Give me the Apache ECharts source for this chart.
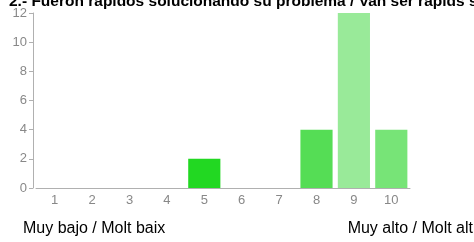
<!DOCTYPE html>
<html>
<head>
<meta charset="utf-8">
<script src="https://cdn.jsdelivr.net/npm/echarts@6/dist/echarts.min.js"></script>
<style>
  html, body { margin: 0; padding: 0; background: #fff; }
  #chart { width: 474px; height: 242px; }
</style>
</head>
<body>
<div id="chart"></div>
<script>
// datos
const categories = ["1", "2", "3", "4", "5", "6", "7", "8", "9", "10"];
const counts = [0, 0, 0, 0, 2, 0, 0, 4, 12, 4];
const barColors = ["#22d822", "#22d822", "#22d822", "#22d822", "#22d822", "#22d822", "#22d822", "#55dd55", "#99ea99", "#77e477"];
const yTicks = [0, 2, 4, 6, 8, 10, 12];
const titleText = "2.- Fueron rápidos solucionando su problema / Van ser ràpids solucionant el seu problema";
const lowLabel = "Muy bajo / Molt baix";
const highLabel = "Muy alto / Molt alt";

const myChart = echarts.init(document.getElementById("chart"));
const option = {
  animation: false,
  textStyle: { fontFamily: "Liberation Sans, Arial, sans-serif" },
  title: {
    text: titleText,
    left: 4,
    top: -11,
    textStyle: { fontSize: 15.5, fontWeight: "bold", color: "#000" }
  },
  grid: { left: 36, right: 64, top: 13, bottom: 54 },
  xAxis: {
    type: "category",
    data: categories,
    axisLine: { lineStyle: { color: "#b0b0b0" } },
    axisTick: { alignWithLabel: true, length: 4, lineStyle: { color: "#b0b0b0" } },
    axisLabel: { color: "#888", fontSize: 13, margin: 6 }
  },
  yAxis: {
    type: "value",
    min: yTicks[0],
    max: yTicks[yTicks.length - 1],
    interval: 2,
    offset: 3,
    splitLine: { show: false },
    axisLine: { show: true, lineStyle: { color: "#b0b0b0" } },
    axisTick: { show: true, length: 4, lineStyle: { color: "#b0b0b0" } },
    axisLabel: { color: "#888", fontSize: 13, margin: 6 }
  },
  graphic: [
    { type: "text", left: 23, top: 221, style: { text: lowLabel, fill: "#000", font: "16px Liberation Sans, Arial, sans-serif" } },
    { type: "text", right: 1, top: 221, style: { text: highLabel, fill: "#000", font: "16px Liberation Sans, Arial, sans-serif" } }
  ],
  series: [{
    type: "bar",
    barCategoryGap: "14%",
    data: counts.map((v, i) => ({ value: v, itemStyle: { color: barColors[i] } }))
  }]
};
myChart.setOption(option);
</script>
</body>
</html>
